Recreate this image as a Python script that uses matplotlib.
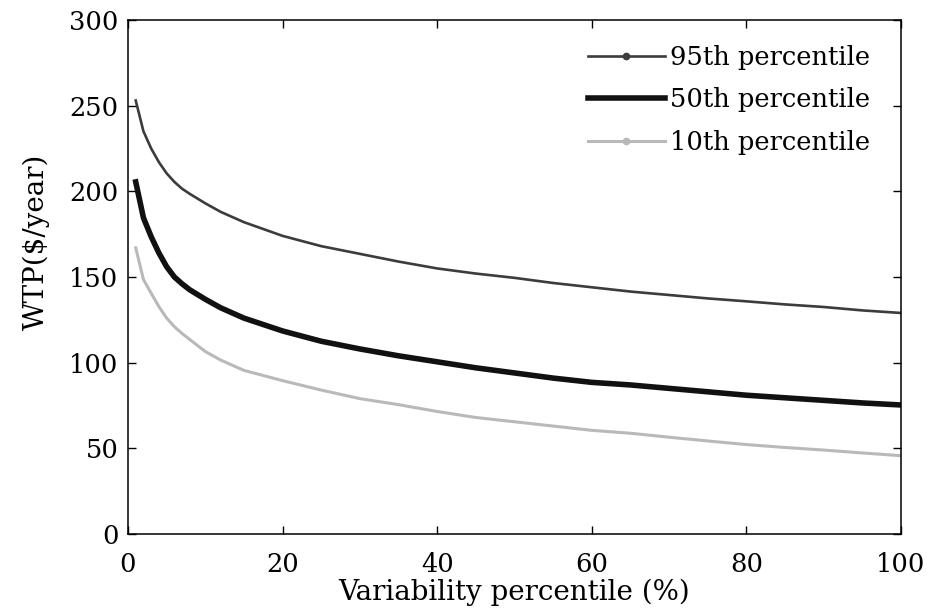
import matplotlib
matplotlib.use("Agg")
import matplotlib.pyplot as plt
from matplotlib.lines import Line2D

plt.rcParams['font.family'] = ['DejaVu Serif']

x = [1, 2, 3, 4, 5, 6, 7, 8, 10, 12, 15, 20, 25, 30, 35, 40, 45, 50,
     55, 60, 65, 70, 75, 80, 85, 90, 95, 100]
p95 = [253, 235, 225, 217, 210.5, 205.5, 201.5, 198.5, 193, 188, 182, 174,
       168, 163.5, 159, 155, 152, 149.5, 146.5, 144, 141.5, 139.5, 137.5,
       135.8, 134, 132.5, 130.5, 129]
p50 = [205.5, 184.5, 173.5, 164, 156, 150, 146, 142.5, 137, 132, 126,
       118.5, 112.5, 108, 104, 100.5, 97, 94, 91, 88.5, 87, 85, 83, 81,
       79.5, 78, 76.5, 75.3]
p10 = [167, 148.5, 140.5, 132.7, 126, 121, 117, 113.5, 106.5, 101.5, 95.5,
       89.5, 84, 79, 75.5, 71.5, 68, 65.5, 63, 60.5, 58.8, 56.5, 54.3, 52.2,
       50.5, 49, 47.3, 45.7]
labels = ['95th percentile', '50th percentile', '10th percentile']
xticks = [0, 20, 40, 60, 80, 100]
yticks = [0, 50, 100, 150, 200, 250, 300]

fig = plt.figure(figsize=(9.28, 6.13), dpi=100)
ax = fig.add_axes([128/928, 1-534/613, (901-128)/928, (534-20)/613])

c95, c50, c10 = '#3c3c3c', '#111111', '#b9b9b9'
ax.plot(x, p95, color=c95, lw=1.9, solid_joinstyle='round')
ax.plot(x, p50, color=c50, lw=4.0, solid_joinstyle='round')
ax.plot(x, p10, color=c10, lw=2.2, solid_joinstyle='round')

ax.set_xlim(0, 100)
ax.set_ylim(0, 300)
ax.set_xticks(xticks)
ax.set_yticks(yticks)
ax.tick_params(direction='in', length=6, width=1, top=True, right=True,
               labelsize=18.5)
ax.tick_params(axis='x', pad=13)
ax.tick_params(axis='y', pad=7)
for s in ax.spines.values():
    s.set_linewidth(1.1)

ax.set_xlabel('Variability percentile (%)', fontsize=20, labelpad=1)
ax.set_ylabel('WTP($/year)', fontsize=20)
ax.yaxis.set_label_coords(-0.101, 0.568)

handles = [
    Line2D([], [], color=c95, lw=1.9, marker='o', markersize=4.5),
    Line2D([], [], color=c50, lw=4.0),
    Line2D([], [], color=c10, lw=2.2, marker='o', markersize=4.5),
]
ax.legend(handles, labels, loc='upper right', frameon=False, fontsize=18.5,
          handlelength=3.0, handletextpad=0.2, labelspacing=0.68,
          borderpad=0, borderaxespad=0, bbox_to_anchor=(0.96, 0.952))

fig.savefig('out.png', dpi=100)
